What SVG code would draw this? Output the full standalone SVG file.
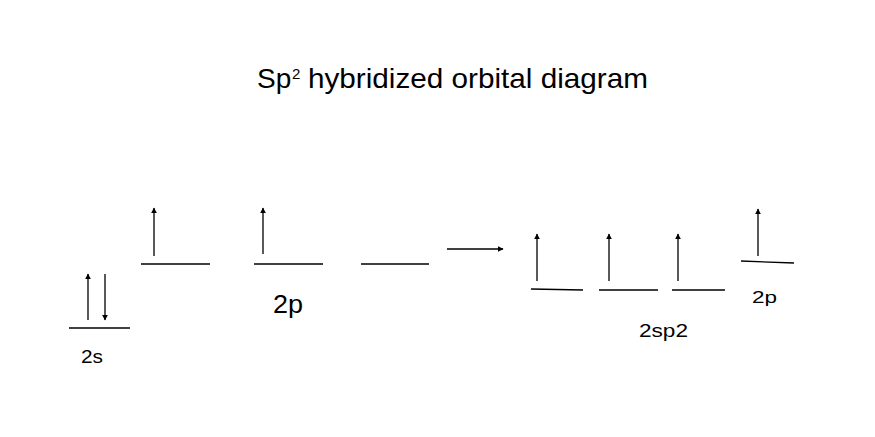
<svg xmlns="http://www.w3.org/2000/svg" width="875" height="437" viewBox="0 0 875 437">
<style>
.t{font-family:"Liberation Sans",Arial,sans-serif;fill:#000}
.lv{stroke:#000;stroke-width:1.3;fill:none}
.ar{stroke:#000;stroke-width:1.3;fill:none;marker-end:url(#ah)}
</style>
<defs>
<marker id="ah" viewBox="0 0 10 10" refX="9" refY="5" markerWidth="6" markerHeight="6" markerUnits="userSpaceOnUse" orient="auto">
<path d="M0,0 L10,5 L0,10 z" fill="#000"/>
</marker>
</defs>
<rect width="875" height="437" fill="#fff"/>
<g id="title">
<text class="t" x="257" y="88" font-size="28">Sp</text>
<text class="t" x="292" y="79" font-size="15">2</text>
<text class="t" x="308" y="88" font-size="28" textLength="340" lengthAdjust="spacingAndGlyphs">hybridized orbital diagram</text>
</g>
<g id="orbital-2s">
<line class="lv" x1="69" y1="328" x2="130" y2="328"/>
<text class="t" x="81" y="363" font-size="18" textLength="22" lengthAdjust="spacingAndGlyphs">2s</text>
</g>
<g id="orbital-2p-1">
<line class="lv" x1="141" y1="264" x2="210" y2="264"/>
</g>
<g id="orbital-2p-2">
<line class="lv" x1="254" y1="264" x2="323" y2="264"/>
<text class="t" x="273" y="313" font-size="25" textLength="30" lengthAdjust="spacingAndGlyphs">2p</text>
</g>
<g id="orbital-2p-3">
<line class="lv" x1="361" y1="264" x2="429" y2="264"/>
</g>
<g id="orbital-sp2-1">
<line class="lv" x1="531" y1="289" x2="583" y2="290"/>
</g>
<g id="orbital-sp2-2">
<line class="lv" x1="599" y1="290" x2="658" y2="290"/>
<text class="t" x="639" y="337" font-size="19" textLength="49" lengthAdjust="spacingAndGlyphs">2sp2</text>
</g>
<g id="orbital-sp2-3">
<line class="lv" x1="672" y1="290" x2="725" y2="290"/>
</g>
<g id="orbital-2p-new">
<line class="lv" x1="741" y1="261" x2="794" y2="263"/>
<text class="t" x="752" y="303" font-size="17" textLength="25" lengthAdjust="spacingAndGlyphs">2p</text>
</g>
<g id="connectors">
<line class="ar" x1="88" y1="320" x2="88" y2="274"/>
<line class="ar" x1="105" y1="274" x2="105" y2="320"/>
<line class="ar" x1="154" y1="256" x2="154" y2="208"/>
<line class="ar" x1="263" y1="254" x2="263" y2="208"/>
<line class="ar" x1="447" y1="249" x2="503" y2="249"/>
<line class="ar" x1="537" y1="281" x2="537" y2="234"/>
<line class="ar" x1="609" y1="281" x2="609" y2="234"/>
<line class="ar" x1="678" y1="281" x2="678" y2="234"/>
<line class="ar" x1="758" y1="256" x2="758" y2="209"/>
</g>
</svg>
